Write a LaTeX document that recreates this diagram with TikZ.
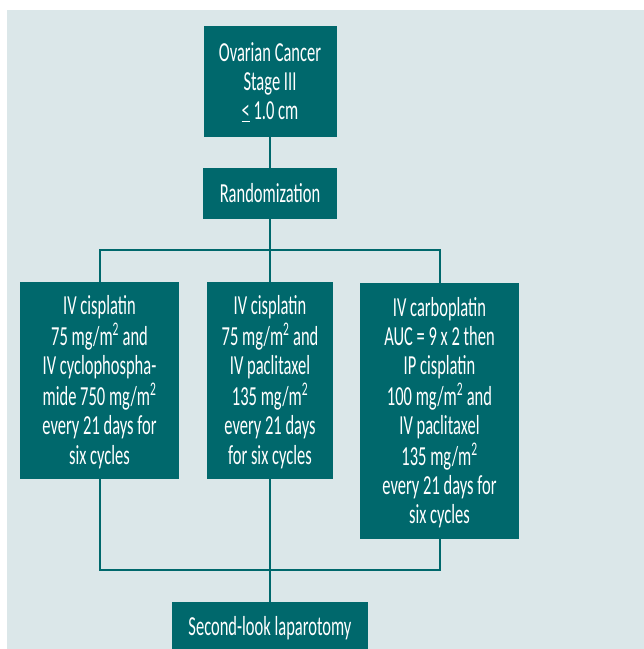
\documentclass[tikz,border=0pt]{standalone}
\usepackage{graphicx}
\usepackage{fontspec}
\setmainfont{Carlito}
\definecolor{armteal}{RGB}{0,104,108}
\definecolor{armbg}{RGB}{219,231,233}
% condensed box text
\newcommand{\armtext}[1]{\raisebox{-3pt}[\height][\depth]{%
  \scalebox{0.66}[1.1]{\fontsize{25}{26.4}\selectfont
  \begin{tabular}{@{}c@{}}#1\end{tabular}}}}
\begin{document}
\begin{tikzpicture}[x=1pt,y=-1pt,
	box/.style={fill=armteal,text=white,inner sep=0pt},
	link/.style={draw=armteal,line width=2pt}]
	\useasboundingbox (0,0) rectangle (644,649);
	\fill[armbg] (7,10) rectangle (644,649);
	\node[box,minimum width=133pt,minimum height=111pt]
	  (cancer) at (270,81.5) {\armtext{Ovarian Cancer\\Stage III\\\underline{<} 1.0 cm}};
	\node[box,minimum width=134pt,minimum height=51pt]
	  (random) at (270,193.5) {\armtext{Randomization}};
	\node[box,minimum width=159pt,minimum height=197pt]
	  (armA) at (99.5,380.5) {\armtext{IV cisplatin\\75 mg/m\textsuperscript{2} and\\IV cyclophospha-\\mide 750 mg/m\textsuperscript{2}\\every 21 days for\\six cycles}};
	\node[box,minimum width=126pt,minimum height=197pt]
	  (armB) at (270,380.5) {\armtext{IV cisplatin\\75 mg/m\textsuperscript{2} and\\IV paclitaxel\\135 mg/m\textsuperscript{2}\\every 21 days\\for six cycles}};
	\node[box,minimum width=159pt,minimum height=256pt]
	  (armC) at (439.5,411) {\armtext{IV carboplatin\\AUC = 9 x 2 then\\IP cisplatin\\100 mg/m\textsuperscript{2} and\\IV paclitaxel\\135 mg/m\textsuperscript{2}\\every 21 days for\\six cycles}};
	\node[box,minimum width=196pt,minimum height=50pt]
	  (lap) at (270,627) {\armtext{Second-look laparotomy}};
	\coordinate (split) at (270,250);
	\coordinate (join) at (270,570);
	% branches
	\draw[link] (cancer) -- (random);
	\draw[link] (random) -- (split);
	\draw[link] (armA.north) |- (split) -| (armC.north);
	\draw[link] (split) -- (armB);
	% merge
	\draw[link] (armA.south) |- (join) -| (armC.south);
	\draw[link] (armB) -- (join);
	\draw[link] (join) -- (lap);
\end{tikzpicture}
\end{document}
